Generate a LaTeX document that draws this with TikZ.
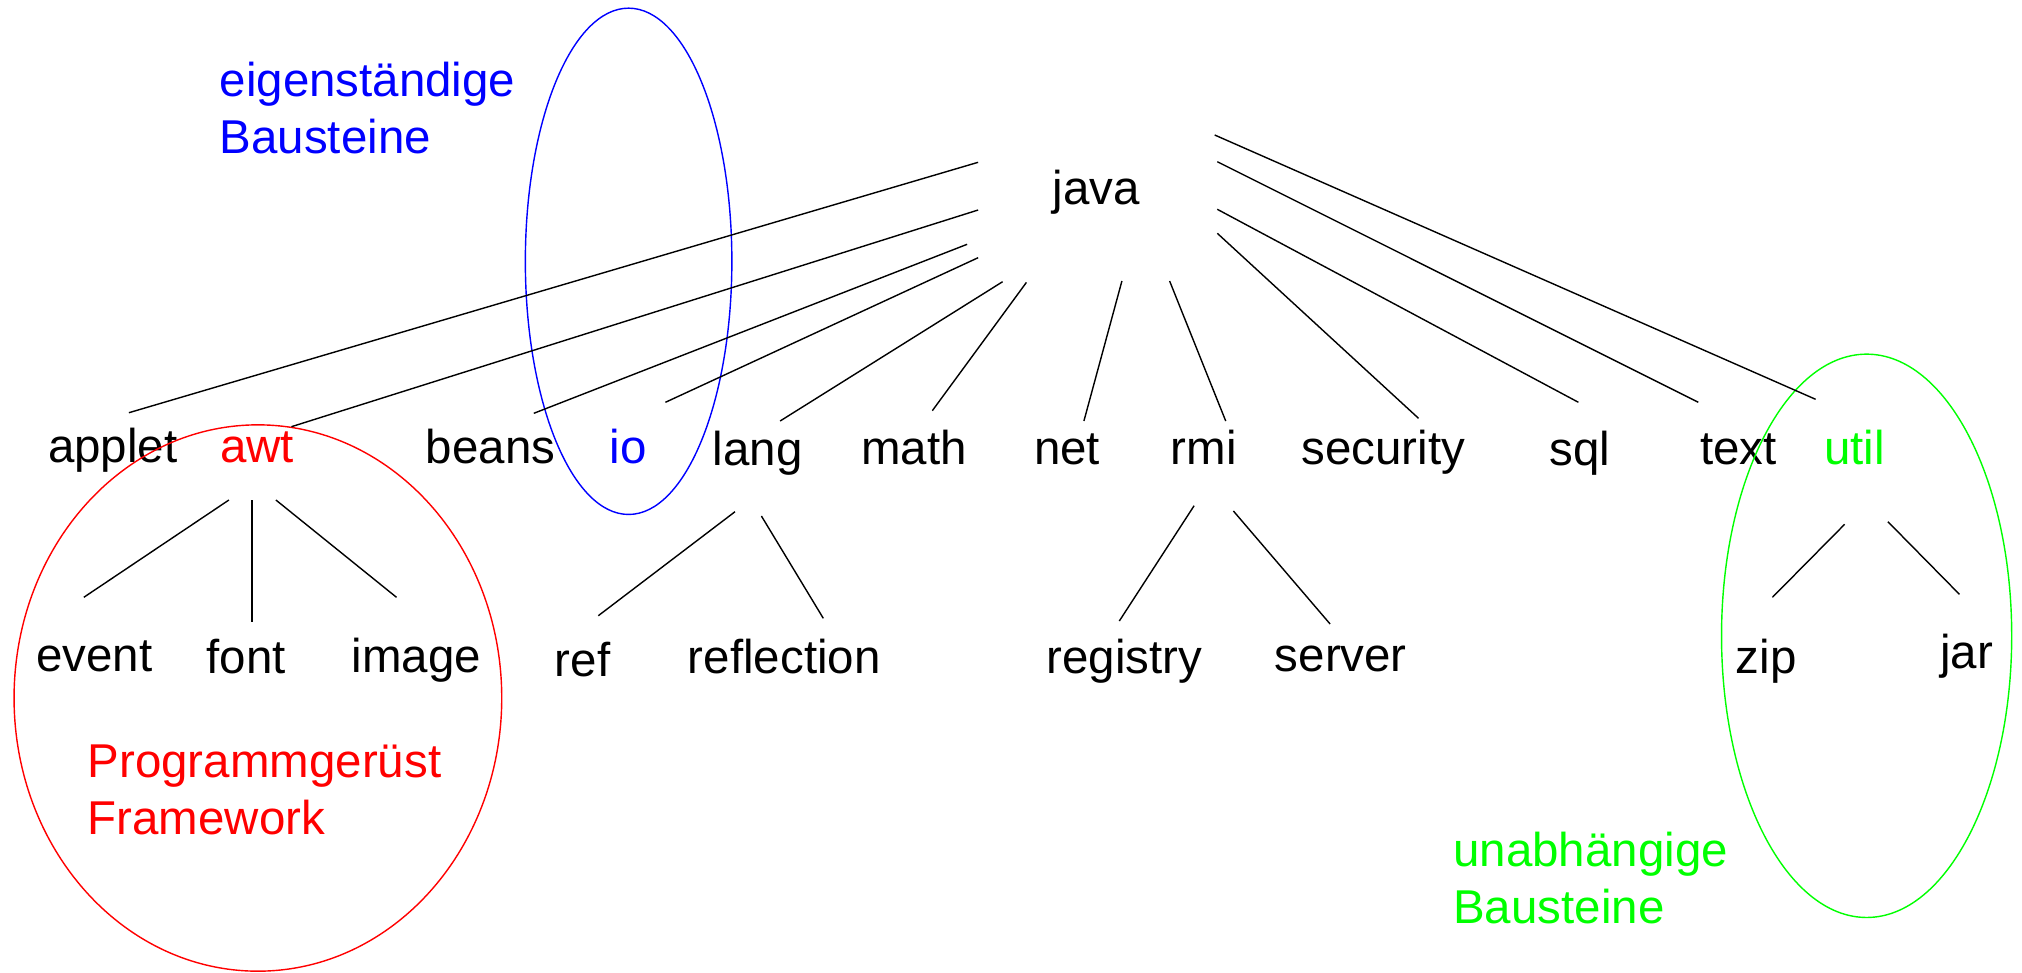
\documentclass[tikz,border=0pt]{standalone}
\usepackage{fontspec}
\setmainfont{Liberation Sans}
\usetikzlibrary{calc}

\tikzset{
  pkg/.style={anchor=base,inner sep=0pt,font=\fontsize{13.5}{16.1}\selectfont},
  note/.style={anchor=base west,inner sep=0pt,align=left,font=\fontsize{13.5}{16.1}\selectfont}
}

\begin{document}
\begin{tikzpicture}[x=0.01cm,y=-0.01cm]
    \useasboundingbox (0,0) rectangle (2022,972);
    % top level
    \node [pkg] (java) at (1096.5,204) {java};
    % first level
    \node [pkg] (applet) at (112.8,462) {applet};
    \node [pkg,red] (awt) at (257,462) {awt};
    \node [pkg] (beans) at (490.6,463) {beans};
    \node [pkg,blue] (io) at (628,463) {io};
    \node [pkg] (lang) at (757.6,465) {lang};
    \node [pkg] (math) at (913.9,464) {math};
    \node [pkg] (net) at (1067.1,464) {net};
    \node [pkg] (rmi) at (1203.8,464) {rmi};
    \node [pkg] (security) at (1383.3,464) {security};
    \node [pkg] (sql) at (1580,465) {sql};
    \node [pkg] (text) at (1738.6,464) {text};
    \node [pkg,green] (util) at (1854.7,464) {util};
    % second level
    \node [pkg] (event) at (94.5,671.7) {event};
    \node [pkg] (font) at (246.3,673.3) {font};
    \node [pkg] (image) at (416.5,672.7) {image};
    \node [pkg] (ref) at (582.5,676) {ref};
    \node [pkg] (reflection) at (784.3,673.3) {reflection};
    \node [pkg] (registry) at (1124.5,673.3) {registry};
    \node [pkg] (server) at (1340.8,671.7) {server};
    \node [pkg] (zip) at (1766.3,673.3) {zip};
    \node [pkg] (jar) at (1966.8,668.3) {jar};
    % groups (base is the last line)
    \node [note,blue] (own) at (219,153.3) {eigenständige\\Bausteine};
    \node [note,red] (frame) at (87,834) {Programmgerüst\\Framework};
    \node [note,green] (indep) at (1452.6,923.3) {unabhängige\\Bausteine};
    \draw [blue] (628.6,261.3) ellipse [x radius=1.032cm,y radius=2.53cm];
    \draw [red] (257.9,698) ellipse [x radius=2.437cm,y radius=2.73cm];
    \draw [green] (1866.6,635.8) ellipse [x radius=1.45cm,y radius=2.815cm];
    % line ends at java
    \coordinate (J0) at (978.1,162.3);
    \coordinate (J1) at (978.1,210);
    \coordinate (J2) at (967.1,244.3);
    \coordinate (J3) at (978.1,257.7);
    \coordinate (J4) at (1002.6,281.7);
    \coordinate (J5) at (1026.4,282.4);
    \coordinate (J6) at (1121.9,281);
    \coordinate (J7) at (1169.6,281);
    \coordinate (J8) at (1217.3,233.3);
    \coordinate (J9) at (1217.3,209.3);
    \coordinate (J10) at (1217.3,161.7);
    \coordinate (J11) at (1214.7,135);
    % line ends at the first level
    \coordinate (P0) at (128.9,412.7);
    \coordinate (P1) at (291.4,426.7);
    \coordinate (P2) at (533.8,413.3);
    \coordinate (P3) at (665.4,402.3);
    \coordinate (P4) at (780.1,421);
    \coordinate (P5) at (932.3,410.7);
    \coordinate (P6) at (1083.9,421);
    \coordinate (P7) at (1225.7,421);
    \coordinate (P8) at (1418.5,418.3);
    \coordinate (P9) at (1578.4,402.3);
    \coordinate (P10) at (1698.3,402.3);
    \coordinate (P11) at (1815.6,399.3);
    \foreach \i in {0,...,11}
      \draw (J\i) -- (P\i);
    % awt
    \coordinate (A0) at (228.9,500);
    \coordinate (A1) at (252.1,500);
    \coordinate (A2) at (275.9,500);
    \coordinate (B0) at (83.8,597.3);
    \coordinate (B1) at (252.1,621.7);
    \coordinate (B2) at (396.5,597.3);
    % lang
    \coordinate (A3) at (735,511.7);
    \coordinate (A4) at (761.4,516);
    \coordinate (B3) at (598.3,615.7);
    \coordinate (B4) at (823.3,618.3);
    % rmi
    \coordinate (A5) at (1194.1,505.7);
    \coordinate (A6) at (1233.4,511);
    \coordinate (B5) at (1119.3,621);
    \coordinate (B6) at (1330.1,624);
    % util
    \coordinate (A7) at (1844.6,524.3);
    \coordinate (A8) at (1887.9,521.7);
    \coordinate (B7) at (1772.4,597.3);
    \coordinate (B8) at (1959.4,594.3);
    \foreach \i in {0,...,8}
      \draw (A\i) -- (B\i);
\end{tikzpicture}
\end{document}
